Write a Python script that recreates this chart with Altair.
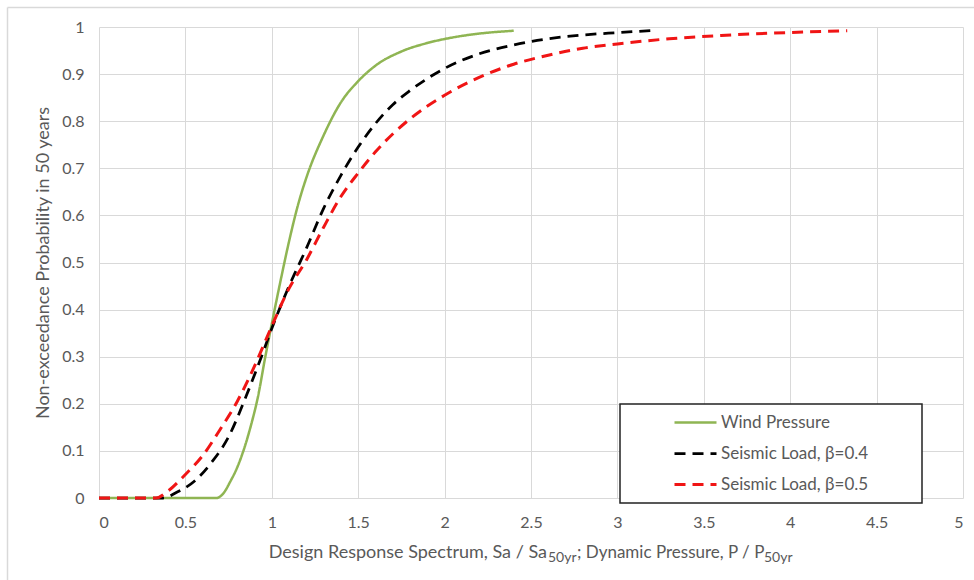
import altair as alt
import pandas as pd

# ---- data ----
series_names = ["Wind Pressure", "Seismic Load, β=0.4", "Seismic Load, β=0.5"]

wind_x = [0, 0.68, 0.72, 0.76, 0.80, 0.84, 0.88, 0.92, 0.96, 1.0, 1.05, 1.1, 1.15, 1.2,
          1.3, 1.4, 1.5, 1.6, 1.75, 1.9, 2.05, 2.2, 2.4]
wind_y = [0, 0, 0.01, 0.035, 0.065, 0.105, 0.155, 0.215, 0.295, 0.37, 0.46, 0.545, 0.62, 0.68,
          0.77, 0.84, 0.885, 0.918, 0.948, 0.966, 0.978, 0.986, 0.992]

seis4_x = [0, 0.37, 0.45, 0.55, 0.65, 0.75, 0.85, 0.95, 1.0, 1.1, 1.2, 1.3, 1.4, 1.5, 1.6,
           1.7, 1.8, 2.0, 2.2, 2.4, 2.6, 2.8, 3.0, 3.22]
seis4_y = [0, 0, 0.012, 0.035, 0.075, 0.13, 0.215, 0.31, 0.36, 0.45, 0.53, 0.615, 0.685,
           0.745, 0.795, 0.835, 0.865, 0.912, 0.943, 0.962, 0.975, 0.983, 0.988, 0.993]

seis5_x = [0, 0.33, 0.4, 0.5, 0.6, 0.7, 0.8, 0.9, 1.0, 1.1, 1.2, 1.3, 1.4, 1.5, 1.6, 1.8,
           2.0, 2.2, 2.4, 2.6, 2.8, 3.0, 3.3, 3.6, 3.9, 4.33]
seis5_y = [0, 0, 0.015, 0.05, 0.09, 0.145, 0.205, 0.28, 0.365, 0.445, 0.505, 0.575, 0.64,
           0.69, 0.735, 0.805, 0.855, 0.893, 0.921, 0.94, 0.955, 0.964, 0.975, 0.982, 0.987, 0.992]

x_ticks = [0, 0.5, 1, 1.5, 2, 2.5, 3, 3.5, 4, 4.5, 5]
y_ticks = [0, 0.1, 0.2, 0.3, 0.4, 0.5, 0.6, 0.7, 0.8, 0.9, 1]

y_title = "Non-exceedance Probability in 50 years"
x_title_parts = ["Design Response Spectrum, Sa / Sa", "50yr", "; Dynamic Pressure, P / P", "50yr"]

rows = []
for name, xs, ys in zip(series_names, [wind_x, seis4_x, seis5_x], [wind_y, seis4_y, seis5_y]):
    for i, (a, b) in enumerate(zip(xs, ys)):
        rows.append({"series": name, "x": a, "y": b, "i": i})
df = pd.DataFrame(rows)

FONT = "Lato"
GRAY = "#595959"
W, H = 864, 471

lines = alt.Chart(df).mark_line(interpolate="monotone").encode(
    x=alt.X("x:Q", scale=alt.Scale(domain=[0, 5], nice=False),
            axis=alt.Axis(values=x_ticks, format="~g", title=None, grid=True,
                          domain=False, ticks=False, labelPadding=16)),
    y=alt.Y("y:Q", scale=alt.Scale(domain=[0, 1], nice=False),
            axis=alt.Axis(values=y_ticks, format="~g", title=y_title, grid=True,
                          domain=False, ticks=False, labelPadding=15, titlePadding=9)),
    color=alt.Color("series:N", title=None,
                    scale=alt.Scale(domain=series_names, range=["#8fb553", "#000000", "#f01515"]),
                    legend=alt.Legend(orient="none", legendX=574, legendY=373,
                                      symbolType="stroke", symbolSize=1764,
                                      symbolStrokeWidth=3, labelFontSize=17,
                                      labelColor=GRAY, labelFont=FONT, rowPadding=-8.5,
                                      labelOffset=3, padding=0)),
    strokeDash=alt.StrokeDash("series:N", title=None,
                              scale=alt.Scale(domain=series_names,
                                              range=[[1, 0], [11, 7], [11, 7]])),
    strokeWidth=alt.StrokeWidth("series:N", legend=None,
                                scale=alt.Scale(domain=series_names, range=[2.5, 3, 3])),
    order="i:Q",
)

one = alt.Data(values=[{}])

legend_box = alt.Chart(one).mark_rect(fill="white", stroke="#222222", strokeWidth=1.5).encode(
    x=alt.value(521), x2=alt.value(823), y=alt.value(377), y2=alt.value(476)
)

frame_left = alt.Chart(one).mark_rule(color="#d9d9d9", strokeWidth=1.5).encode(
    x=alt.value(-91.5), y=alt.value(-19.5), y2=alt.value(560)
)
frame_top = alt.Chart(one).mark_rule(color="#d9d9d9", strokeWidth=1.5).encode(
    x=alt.value(-91.5), x2=alt.value(880), y=alt.value(-19.5)
)

TY = 526
t1 = alt.Chart(one).mark_text(align="right", baseline="middle", fontSize=18, font=FONT, color=GRAY).encode(
    x=alt.value(448), y=alt.value(TY), text=alt.value(x_title_parts[0]))
t2 = alt.Chart(one).mark_text(align="left", baseline="middle", fontSize=14, font=FONT, color=GRAY).encode(
    x=alt.value(449), y=alt.value(TY + 5), text=alt.value(x_title_parts[1]))
t3 = alt.Chart(one).mark_text(align="left", baseline="middle", fontSize=17, font=FONT, color=GRAY).encode(
    x=alt.value(478), y=alt.value(TY), text=alt.value(x_title_parts[2]))
t4 = alt.Chart(one).mark_text(align="left", baseline="middle", fontSize=14, font=FONT, color=GRAY).encode(
    x=alt.value(665), y=alt.value(TY + 5), text=alt.value(x_title_parts[3]))

chart = alt.layer(frame_left, frame_top, lines, legend_box, t1, t2, t3, t4).properties(
    width=W, height=H,
    autosize=alt.AutoSizeParams(type="none"),
    padding={"left": 99, "top": 27, "right": 11, "bottom": 82},
    background="white",
).configure_view(stroke=None).configure_axis(
    gridColor="#d9d9d9", gridWidth=1, labelFont=FONT, labelFontSize=16, labelColor=GRAY,
    titleFont=FONT, titleFontSize=18, titleColor=GRAY, titleFontWeight="normal",
)

chart.save("out.html", embed_options={"renderer": "svg", "actions": False})
